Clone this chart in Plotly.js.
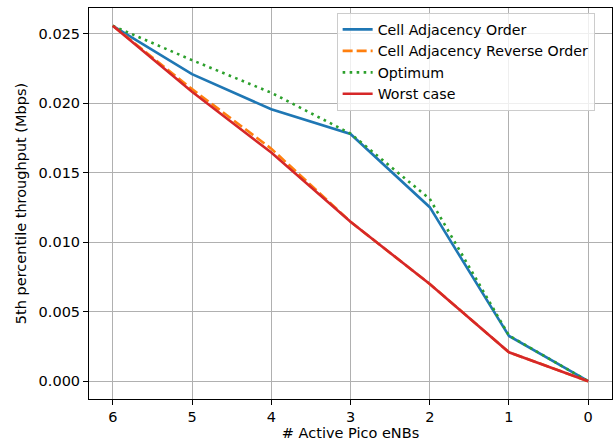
<!DOCTYPE html>
<html>
<head>
<meta charset="utf-8">
<script src="https://cdn.plot.ly/plotly-3.0.1.min.js"></script>
<style>html,body{margin:0;padding:0;background:#fff;}#chart{width:615px;height:444px;}</style>
</head>
<body>
<div id="chart"></div>
<script>
const activePico = [6, 5, 4, 3, 2, 1, 0];
const adjacencyOrder = [0.02555, 0.02208, 0.01955, 0.01777, 0.01251, 0.00325, 0.0];
const adjacencyReverse = [0.02555, 0.02100, 0.01672, 0.01146, 0.00699, 0.00208, 0.0];
const optimum = [0.02555, 0.02308, 0.02074, 0.01780, 0.01311, 0.00328, 0.0];
const worstCase = [0.02555, 0.02081, 0.01644, 0.01146, 0.00699, 0.00208, 0.0];
const seriesNames = ["Cell Adjacency Order", "Cell Adjacency Reverse Order", "Optimum", "Worst case"];
const xTickVals = [6, 5, 4, 3, 2, 1, 0];
const yTickVals = [0, 0.005, 0.010, 0.015, 0.020, 0.025];

const font = {family: "DejaVu Sans", size: 14.5, color: "#000"};
const legendFont = {family: "DejaVu Sans", size: 14.2, color: "#000"};
const lw = 2.6;
const traces = [
  {x: activePico, y: adjacencyOrder, name: seriesNames[0], mode: "lines", line: {color: "#1f77b4", width: lw}},
  {x: activePico, y: adjacencyReverse, name: seriesNames[1], mode: "lines", line: {color: "#ff7f0e", width: lw, dash: "10px,4px"}},
  {x: activePico, y: optimum, name: seriesNames[2], mode: "lines", line: {color: "#2ca02c", width: lw, dash: "2.6px,4.4px"}},
  {x: activePico, y: worstCase, name: seriesNames[3], mode: "lines", line: {color: "#d62728", width: lw}}
];
const layout = {
  width: 615, height: 444,
  margin: {l: 89, r: 3, t: 8, b: 45},
  paper_bgcolor: "#fff", plot_bgcolor: "#fff",
  font: font,
  showlegend: true,
  legend: {x: 0.4735, y: 0.988, xanchor: "left", yanchor: "top",
    bgcolor: "rgba(255,255,255,0.8)", bordercolor: "#cccccc", borderwidth: 1,
    font: legendFont, tracegroupgap: 0},
  xaxis: {range: [6.3, -0.3], tickvals: xTickVals, ticktext: xTickVals.map(String),
    showgrid: true, gridcolor: "#b0b0b0", gridwidth: 1, zeroline: false,
    showline: true, linecolor: "#000", linewidth: 1, mirror: true,
    ticks: "outside", ticklen: 5, tickcolor: "#000", tickfont: font,
    title: {text: "# Active Pico eNBs", font: font, standoff: 2}},
  yaxis: {range: [-0.00128, 0.02683], tickvals: yTickVals, tickformat: ".3f",
    showgrid: true, gridcolor: "#b0b0b0", gridwidth: 1, zeroline: false,
    showline: true, linecolor: "#000", linewidth: 1, mirror: true,
    ticks: "outside", ticklen: 5, tickcolor: "#000", tickfont: font,
    title: {text: "5th percentile throughput (Mbps)", font: font, standoff: 8}}
};
Plotly.newPlot("chart", traces, layout, {displayModeBar: false, staticPlot: true});
</script>
</body>
</html>
